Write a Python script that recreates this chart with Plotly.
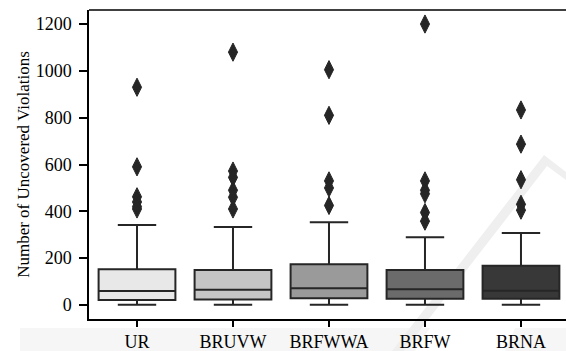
import plotly.graph_objects as go

# Summary statistics per strategy
categories = ["UR", "BRUVW", "BRFWWA", "BRFW", "BRNA"]
q1 = [21, 23, 29, 26, 26]
median = [60, 65, 71, 67, 61]
q3 = [152, 149, 174, 149, 168]
lower_whisker = [1, 1, 1, 1, 1]
upper_whisker = [342, 333, 353, 289, 307]

# Outlying runs per strategy
outliers = {
    "UR": [930, 590, 462, 440, 420, 410],
    "BRUVW": [1080, 572, 545, 490, 460, 410],
    "BRFWWA": [1005, 810, 530, 500, 425],
    "BRFW": [1200, 530, 490, 475, 395, 358],
    "BRNA": [833, 687, 535, 430, 405],
}

fills = ["#e8e8e8", "#c5c5c5", "#9a9a9a", "#6b6b6b", "#383838"]
edge = "#262626"

W, H = 566, 351
L, R, T, B = 89, 0, 10, 32


def px(x):
    return (x - L) / (W - L - R)


def py(y):
    return (H - B - y) / (H - B - T)


fig = go.Figure()

for i, cat in enumerate(categories):
    fig.add_trace(go.Box(
        x=[cat], q1=[q1[i]], median=[median[i]], q3=[q3[i]],
        lowerfence=[lower_whisker[i]], upperfence=[upper_whisker[i]],
        fillcolor=fills[i], line=dict(color=edge, width=2),
        width=0.8, whiskerwidth=0.5, boxpoints=False, showlegend=False,
    ))

for cat in categories:
    vals = outliers[cat]
    fig.add_trace(go.Scatter(
        x=[cat] * len(vals), y=vals, mode="markers",
        marker=dict(symbol="diamond-tall", size=13, color="#262626",
                    line=dict(color="#262626", width=1)),
        showlegend=False, hoverinfo="y",
    ))


def poly(points, color):
    d = "M " + " L ".join(f"{px(a):.4f},{py(b):.4f}" for a, b in points) + " Z"
    fig.add_shape(type="path", path=d, xref="paper", yref="paper",
                  fillcolor=color, line=dict(width=0), layer="below")


# faint background emblem
poly([(20, 328), (430, 328), (415, 351), (20, 351)], "#f6f6f6")
poly([(515, 328), (566, 328), (566, 351), (505, 351)], "#f6f6f6")
poly([(392, 351), (404, 351), (547, 166), (566, 180), (566, 172), (544, 155)], "#efefef")

# top spine
fig.add_shape(type="line", xref="paper", yref="paper", x0=0, x1=1, y0=1, y1=1,
              line=dict(color="black", width=1.5))

font_family = "Liberation Serif, Times New Roman, serif"
fig.update_layout(
    width=W, height=H,
    margin=dict(l=L, r=R, t=T, b=B),
    plot_bgcolor="rgba(0,0,0,0)", paper_bgcolor="white",
    font=dict(family=font_family, color="black", size=18),
    boxmode="overlay",
)
fig.update_xaxes(
    type="category", categoryorder="array", categoryarray=categories,
    range=[-0.5, 4.469], showline=True, linecolor="black", linewidth=1.5,
    ticks="outside", ticklen=6, tickwidth=1.5, tickcolor="black",
    showgrid=False, zeroline=False, tickfont=dict(size=18),
)
fig.update_yaxes(
    range=[-60, 1260], tickvals=[0, 200, 400, 600, 800, 1000, 1200],
    showline=True, linecolor="black", linewidth=1.5,
    ticks="outside", ticklen=8, tickwidth=1.5, tickcolor="black",
    ticklabelstandoff=4,
    showgrid=False, zeroline=False, tickfont=dict(size=18),
    title=dict(text="Number of Uncovered Violations", font=dict(size=17), standoff=2),
)

fig.write_html("out.html")
